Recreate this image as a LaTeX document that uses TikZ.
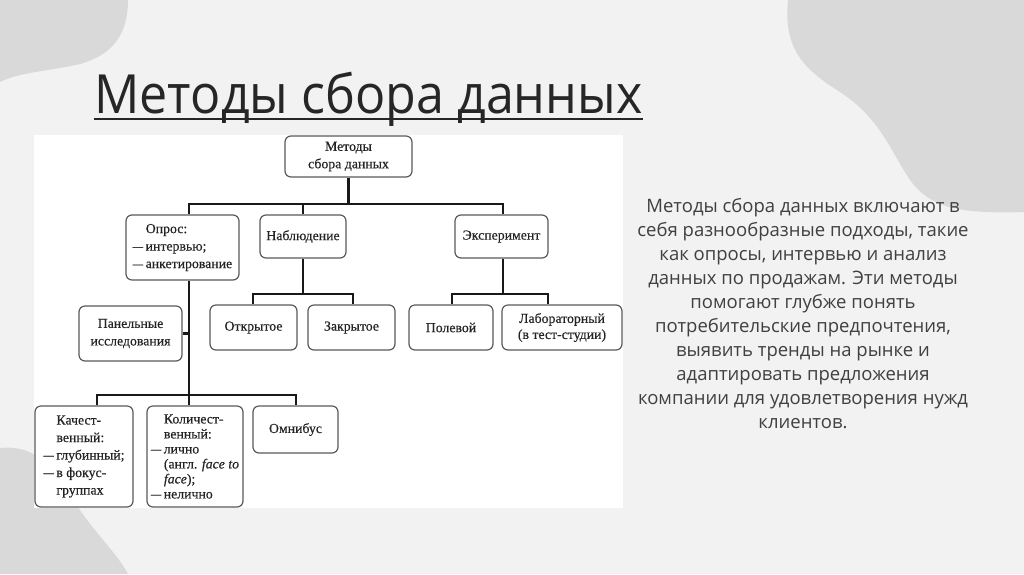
\documentclass[tikz,border=0pt]{standalone}
\usepackage{fontspec}
\setmainfont{Liberation Serif}[FakeBold=0.35]
\newfontfamily\slidefont{Open Sans}
\definecolor{bgc}{RGB}{242,242,242}
\definecolor{blobc}{RGB}{217,217,217}
\definecolor{titlec}{RGB}{38,38,38}
\definecolor{bodyc}{RGB}{64,64,64}
\definecolor{boxc}{RGB}{90,90,90}
\definecolor{txtc}{RGB}{35,35,35}
\newcommand\dd{\scalebox{0.75}[1]{—}\hspace{2.5pt}}
\newcommand\ind{\hspace*{13pt}}
\tikzset{
  box/.style={draw=boxc, line width=1.2pt, rounded corners=6pt, fill=white, inner sep=0pt,
    font=\fontsize{13.8}{17.5}\selectfont, text=txtc, align=center},
  conn/.style={draw=black!90, line width=2.8pt, line join=miter},
}
\begin{document}
\begin{tikzpicture}[x=1pt,y=-1pt]
\useasboundingbox (0,0) rectangle (1024,574);
\fill[bgc] (0,0) rectangle (1024,574);
% blobs
\fill[blobc] (0,0) -- (128,0) .. controls (128,35) and (112,55) .. (80,64)
  .. controls (50,71) and (20,72) .. (0,82) -- cycle;
\fill[blobc] (788,0) .. controls (783,50) and (805,70) .. (840,92)
  .. controls (880,118) and (890,150) .. (910,180)
  .. controls (930,208) and (960,214) .. (1024,212) -- (1024,0) -- cycle;
\fill[blobc] (0,448) .. controls (30,445) and (50,460) .. (70,495)
  .. controls (95,535) and (115,550) .. (128,574) -- (0,574) -- cycle;
% title
\node[font=\slidefont\fontsize{54}{60}\selectfont, text=titlec, anchor=base west, inner sep=0pt]
  (title) at (94,113) {\scalebox{0.93}[1]{Методы сбора данных}};
\draw[titlec, line width=2.6pt] ([yshift=-6pt]title.base west) -- ([yshift=-6pt]title.base east);
% white panel
\fill[white] (34,135) rectangle (623,508);
% boxes
\node[box, minimum width=127pt, minimum height=41pt] (root) at (348.5,156.5) {Методы\\сбора данных};
\node[box, align=left, minimum width=113pt, minimum height=65pt] (opros) at (182.5,247.5)
  {\ind Опрос:\\\dd интервью;\\\dd анкетирование};
\node[box, minimum width=86pt, minimum height=43pt] (nabl) at (303,236.5) {Наблюдение};
\node[box, minimum width=93pt, minimum height=43pt] (exper) at (501.5,236.5) {Эксперимент};
\node[box, minimum width=87pt, minimum height=45pt] (otkr) at (253.5,327.5) {Открытое};
\node[box, minimum width=87pt, minimum height=45pt] (zakr) at (351.5,327.5) {Закрытое};
\node[box, minimum width=84pt, minimum height=45pt] (pole) at (451,327.5) {Полевой};
\node[box, font=\fontsize{13.8}{16}\selectfont, minimum width=120pt, minimum height=45pt] (labo) at (562,327.5) {Лабораторный\\(в тест-студии)};
\node[box, minimum width=103pt, minimum height=55pt] (panel) at (130.5,333.5) {Панельные\\исследования};
\node[box, align=left, minimum width=98pt, minimum height=101pt] (kach) at (84,456.5)
  {\ind Качест-\\\ind венный:\\\dd глубинный;\\\dd в фокус-\\\ind группах};
\node[box, align=left, font=\fontsize{13.8}{15}\selectfont, minimum width=96pt, minimum height=101pt] (kol) at (195,456.5)
  {\ind Количест-\\\ind венный:\\\dd лично\\\ind (англ. \textit{face to}\\\ind \textit{face});\\\dd нелично};
\node[box, minimum width=85pt, minimum height=47pt] (omni) at (295.5,429.5) {Омнибус};
% connector coordinates
\coordinate (rb) at (348.5,204);
\coordinate (ob) at (189,204);
\coordinate (nb) at (303,204);
\coordinate (eb) at (503,204);
\coordinate (nl) at (253,294);
\coordinate (nr) at (353,294);
\coordinate (el) at (452,294);
\coordinate (er) at (548,294);
\coordinate (kb) at (97,395);
\coordinate (ab) at (296,395);
% connectors
\draw[conn] (root.south) -- (rb);
\draw[conn] (opros.north -| ob) -- (ob) -- (eb) -- (exper.north -| eb);
\draw[conn] (nb) -- (nabl.north);
\draw[conn] (nabl.south) -- (nabl.south |- nl);
\draw[conn] (otkr.north -| nl) -- (nl) -- (nr) -- (zakr.north -| nr);
\draw[conn] (exper.south -| eb) -- (eb |- el);
\draw[conn] (pole.north -| el) -- (el) -- (er) -- (labo.north -| er);
\draw[conn] (opros.south -| ob) -- (kol.north -| ob);
\draw[conn] (panel.east) -- (panel.east -| ob);
\draw[conn] (kach.north -| kb) -- (kb) -- (ab) -- (omni.north -| ab);
% body text
\node[font=\slidefont\fontsize{18.5}{24}\selectfont, text=bodyc, align=center, inner sep=0pt]
  (body) at (803,314) {Методы сбора данных включают в\\себя разнообразные подходы, такие\\как опросы, интервью и анализ\\данных по продажам. Эти методы\\помогают глубже понять\\потребительские предпочтения,\\выявить тренды на рынке и\\адаптировать предложения\\компании для удовлетворения нужд\\клиентов.};
\end{tikzpicture}
\end{document}
